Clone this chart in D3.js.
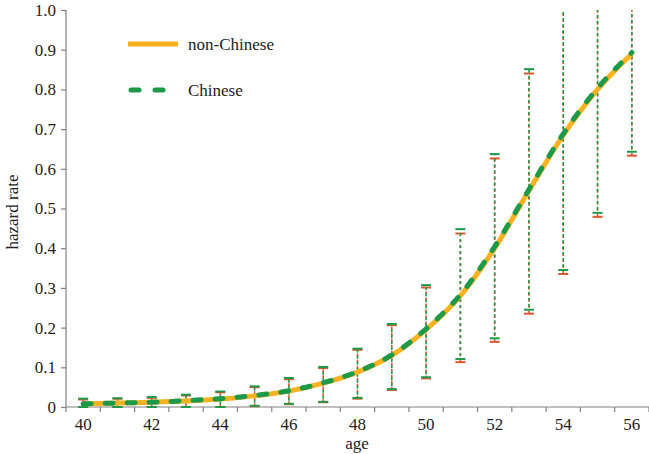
<!DOCTYPE html>
<html>
<head>
	<meta charset="utf-8">
	<title>hazard rate</title>
	<script src="https://d3js.org/d3.v7.min.js"></script>
	<style>
		body { margin: 0; background: #fff; }
		svg { display: block; font-family: "Liberation Serif", "DejaVu Serif", serif; }
		.axis path, .axis line { stroke: #808080; stroke-width: 1.2; }
	</style>
</head>
<body>
	<script>
		// DATA
		var ages = [40, 41, 42, 43, 44, 45, 46, 47, 48, 49, 50, 51, 52, 53, 54, 55, 56];
		var nonChinese = [0.008, 0.010, 0.012, 0.015, 0.020, 0.028, 0.040, 0.060, 0.088, 0.130, 0.195, 0.280, 0.400, 0.545, 0.685, 0.800, 0.890];
		var chinese    = [0.008, 0.010, 0.012, 0.016, 0.021, 0.029, 0.041, 0.061, 0.089, 0.131, 0.197, 0.283, 0.404, 0.548, 0.688, 0.803, 0.893];
		var ncLower = [0, 0, 0, 0, 0, 0.002, 0.007, 0.012, 0.021, 0.043, 0.072, 0.113, 0.164, 0.235, 0.335, 0.479, 0.633];
		var ncUpper = [0.019, 0.021, 0.023, 0.029, 0.037, 0.050, 0.070, 0.098, 0.144, 0.206, 0.301, 0.437, 0.626, 0.840, 1.12, 1.2, 1.2];
		var chLower = [0, 0, 0, 0, 0, 0.003, 0.008, 0.013, 0.023, 0.045, 0.075, 0.121, 0.173, 0.245, 0.345, 0.489, 0.643];
		var chUpper = [0.021, 0.022, 0.025, 0.031, 0.039, 0.052, 0.073, 0.101, 0.147, 0.209, 0.307, 0.448, 0.637, 0.851, 1.13, 1.21, 1.21];
		var yTicks = [0, 0.1, 0.2, 0.3, 0.4, 0.5, 0.6, 0.7, 0.8, 0.9, 1.0];

		var orange = "#f9b21f", green = "#1d9a49", red = "#e0582c";
		var serif = '"Liberation Serif", "DejaVu Serif", serif';

		// SET UP SVG
		var width = 649, height = 454;
		var plotLeft = 66, plotRight = 649, plotTop = 10, plotBottom = 407;
		var svg = d3.select("body").append("svg")
			.attr("width", width)
			.attr("height", height);

		var x = d3.scaleBand().domain(ages).range([plotLeft, plotRight]);
		var y = d3.scaleLinear().domain([0, 1]).range([plotBottom, plotTop]);
		var cx = function(a) { return x(a) + x.bandwidth() / 2; };

		svg.append("clipPath").attr("id", "plot")
			.append("rect").attr("x", plotLeft).attr("y", plotTop)
			.attr("width", plotRight - plotLeft).attr("height", plotBottom - plotTop + 2);

		// AXES
		var xAxis = svg.append("g").attr("class", "axis")
			.attr("transform", "translate(0," + plotBottom + ")")
			.call(d3.axisBottom(x).tickSize(0).tickPadding(11).tickFormat(function(d) { return d % 2 == 0 ? d : ""; }));
		xAxis.select(".domain").attr("d", "M" + plotLeft + ",0H" + plotRight);
		xAxis.selectAll(".bound").data(ages.concat([null])).enter().append("line")
			.attr("x1", function(d, i) { return plotLeft + i * x.bandwidth(); })
			.attr("x2", function(d, i) { return plotLeft + i * x.bandwidth(); })
			.attr("y1", 0).attr("y2", 5);

		var yAxis = svg.append("g").attr("class", "axis")
			.attr("transform", "translate(" + plotLeft + ",0)")
			.call(d3.axisLeft(y).tickValues(yTicks).tickSize(5).tickPadding(5)
				.tickFormat(function(d) { return d == 0 ? "0" : d3.format(".1f")(d); }));
		yAxis.select(".domain").attr("d", "M0," + plotTop + "V" + plotBottom);

		svg.selectAll(".axis").attr("font-family", null).attr("font-size", null);
		svg.selectAll(".axis text").style("font-family", serif).style("font-size", "17px").attr("fill", "#222");

		svg.append("text").attr("x", 357).attr("y", 449).attr("text-anchor", "middle")
			.style("font-size", "17px").attr("fill", "#222").text("age");
		svg.append("text").attr("transform", "translate(18,212) rotate(-90)").attr("text-anchor", "middle")
			.style("font-size", "17px").attr("fill", "#222").text("hazard rate");

		// ERROR BARS
		var bars = svg.append("g").attr("clip-path", "url(#plot)");
		function errorBars(lo, hi, color, offset) {
			var g = bars.append("g");
			g.selectAll("line.v").data(ages).enter().append("line")
				.attr("x1", cx).attr("x2", cx)
				.attr("y1", function(d, i) { return y(lo[i]); })
				.attr("y2", function(d, i) { return y(hi[i]); })
				.attr("stroke", color).attr("stroke-width", 1.6)
				.attr("stroke-dasharray", "3,3").attr("stroke-dashoffset", offset);
			[lo, hi].forEach(function(arr) {
				g.selectAll(null).data(ages).enter().append("line")
					.attr("x1", function(d) { return cx(d) - 5; })
					.attr("x2", function(d) { return cx(d) + 5; })
					.attr("y1", function(d, i) { return y(arr[i]); })
					.attr("y2", function(d, i) { return y(arr[i]); })
					.attr("stroke", color).attr("stroke-width", 2);
			});
		}
		errorBars(ncLower, ncUpper, red, 0);
		errorBars(chLower, chUpper, green, 3);

		// LINES
		var line = d3.line().curve(d3.curveMonotoneX);
		svg.append("path")
			.attr("d", line(ages.map(function(a, i) { return [cx(a), y(nonChinese[i])]; })))
			.attr("fill", "none").attr("stroke", orange).attr("stroke-width", 5);
		svg.append("path")
			.attr("d", line(ages.map(function(a, i) { return [cx(a), y(chinese[i])]; })))
			.attr("fill", "none").attr("stroke", green).attr("stroke-width", 5)
			.attr("stroke-dasharray", "8,14").attr("stroke-linecap", "round");

		// LEGEND
		var legend = [
			{ name: "non-Chinese", color: orange, dash: null, y: 44 },
			{ name: "Chinese", color: green, dash: "8,16", y: 90 }
		];
		legend.forEach(function(l) {
			svg.append("line").attr("x1", l.dash ? 131 : 128).attr("x2", 178)
				.attr("y1", l.y).attr("y2", l.y)
				.attr("stroke", l.color).attr("stroke-width", 5)
				.attr("stroke-linecap", l.dash ? "round" : "butt")
				.attr("stroke-dasharray", l.dash);
			svg.append("text").attr("x", 188).attr("y", l.y + 6)
				.style("font-size", "17px").attr("fill", "#222").text(l.name);
		});
	</script>
</body>
</html>
